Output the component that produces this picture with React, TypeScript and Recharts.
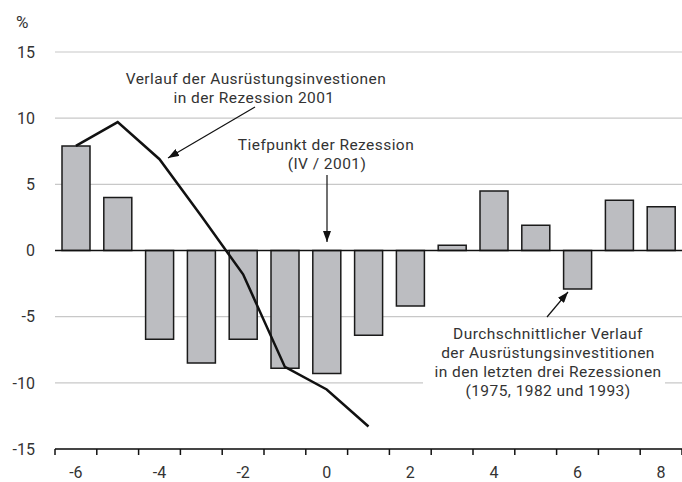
import React from 'react';
import {
  ComposedChart,
  Bar,
  Line,
  XAxis,
  YAxis,
  CartesianGrid,
  ReferenceLine,
} from 'recharts';

// quarters relative to the low point of the recession
const quarters = ['-6', '-5', '-4', '-3', '-2', '-1', '0', '1', '2', '3', '4', '5', '6', '7', '8'];
// average of the last three recessions (bars)
const averageRecessions = [7.9, 4.0, -6.7, -8.5, -6.7, -8.9, -9.3, -6.4, -4.2, 0.4, 4.5, 1.9, -2.9, 3.8, 3.3];
// recession 2001 (line), stops after quarter 1
const recession2001 = [7.9, 9.7, 6.9, 2.6, -1.8, -8.8, -10.5, -13.3, null, null, null, null, null, null, null];
const yTicks = [-15, -10, -5, 0, 5, 10, 15];
const xLabels = ['-6', '-4', '-2', '0', '2', '4', '6', '8'];

const data = quarters.map((q, i) => ({
  q,
  avg: averageRecessions[i],
  r2001: recession2001[i],
}));

const FONT = 'Roboto, sans-serif';
const TEXT = '#333';

const XTick = (props: any) => {
  const { x, y, payload, width, visibleTicksCount, index } = props;
  const half = payload.offset > 0 ? payload.offset : width / visibleTicksCount / 2;
  const isLast = index === visibleTicksCount - 1;
  return (
    <g>
      <line x1={x - half} x2={x - half} y1={y} y2={y + 6} stroke="#111" strokeWidth={1.5} />
      {isLast && <line x1={x + half} x2={x + half} y1={y} y2={y + 6} stroke="#111" strokeWidth={1.5} />}
      {xLabels.includes(payload.value) && (
        <text x={x} y={y + 29} textAnchor="middle" fill={TEXT} fontSize={16} fontFamily={FONT}>
          {payload.value}
        </text>
      )}
    </g>
  );
};

function Annotations() {
  const t = { fill: TEXT, fontSize: 15.5, fontFamily: FONT, letterSpacing: 0.45, textAnchor: 'middle' as const };
  return (
    <svg width={682} height={482} style={{ position: 'absolute', left: 0, top: 0, pointerEvents: 'none' }}>
      <defs>
        <marker id="ah" markerWidth={11} markerHeight={8} refX={11} refY={4} orient="auto" markerUnits="userSpaceOnUse">
          <path d="M0,0 L11,4 L0,8 z" fill="#111" />
        </marker>
      </defs>
      <text x={16} y={28} fill={TEXT} fontSize={17} fontFamily={FONT}>%</text>

      <text {...t} x={256} y={84}>Verlauf der Ausrüstungsinvestionen</text>
      <text {...t} x={254} y={103}>in der Rezession 2001</text>
      <line x1={255} y1={107} x2={168} y2={158} stroke="#111" strokeWidth={1.2} markerEnd="url(#ah)" />

      <text {...t} x={326} y={150}>Tiefpunkt der Rezession</text>
      <text {...t} x={327} y={169}>(IV / 2001)</text>
      <line x1={327} y1={175} x2={327} y2={242} stroke="#111" strokeWidth={1.2} markerEnd="url(#ah)" />

      <line x1={547} y1={317} x2={568} y2={292} stroke="#111" strokeWidth={1.2} markerEnd="url(#ah)" />
      <rect x={423} y={322} width={242} height={76} fill="#fff" />
      <text {...t} x={548} y={339}>Durchschnittlicher Verlauf</text>
      <text {...t} x={548} y={358}>der Ausrüstungsinvestitionen</text>
      <text {...t} x={548} y={377}>in den letzten drei Rezessionen</text>
      <text {...t} x={548} y={396}>(1975, 1982 und 1993)</text>
    </svg>
  );
}

export default function App() {
  return (
    <div style={{ position: 'absolute', left: 0, top: 0, width: 682, height: 482, background: '#fff' }}>
      <ComposedChart width={682} height={482} data={data} margin={{ top: 52, right: 0, left: 0, bottom: 0 }}>
        <CartesianGrid vertical={false} stroke="#c8c8c8" strokeWidth={1.2} />
        <YAxis
          domain={[-15, 15]}
          ticks={yTicks}
          width={55}
          axisLine={false}
          tickLine={false}
          tickSize={0}
          tickMargin={20}
          tick={{ fill: TEXT, fontSize: 16, fontFamily: FONT }}
        />
        <XAxis
          dataKey="q"
          height={33}
          interval={0}
          tickLine={false}
          tickSize={0}
          tickMargin={0}
          axisLine={{ stroke: '#111', strokeWidth: 1.5 }}
          tick={<XTick />}
        />
        <Bar dataKey="avg" barSize={28} fill="#bcbdc1" stroke="#1a1a1a" strokeWidth={1.5} isAnimationActive={false} />
        <ReferenceLine y={0} stroke="#111" strokeWidth={1.5} />
        <Line
          dataKey="r2001"
          type="linear"
          stroke="#111"
          strokeWidth={2.5}
          dot={false}
          activeDot={false}
          connectNulls={false}
          isAnimationActive={false}
        />
      </ComposedChart>
      <Annotations />
    </div>
  );
}
